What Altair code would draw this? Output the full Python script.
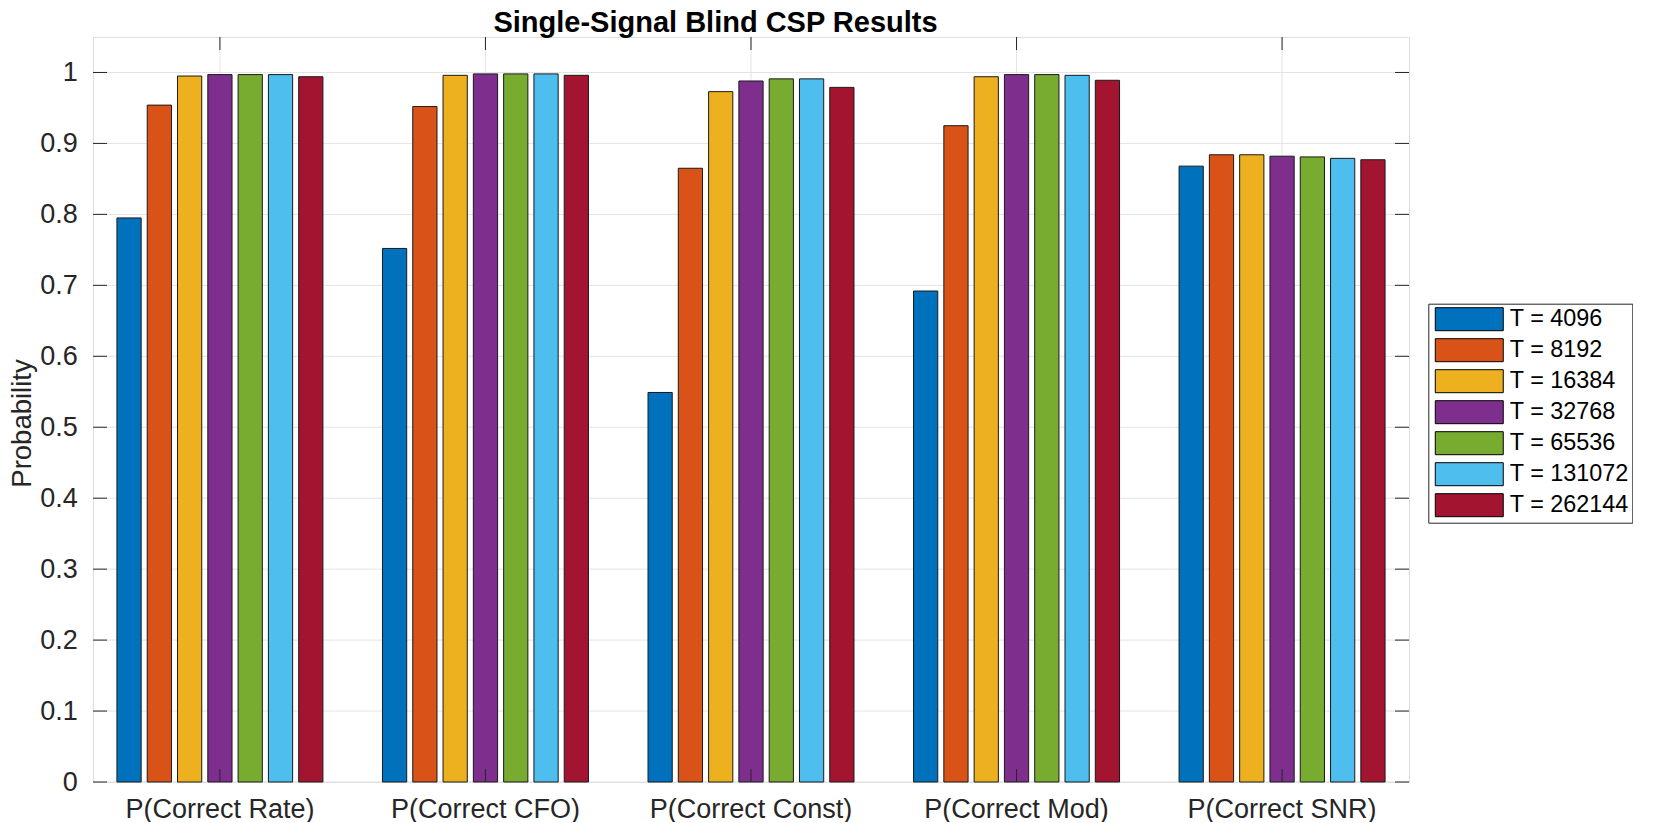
import altair as alt
import pandas as pd

categories = ["P(Correct Rate)", "P(Correct CFO)", "P(Correct Const)", "P(Correct Mod)", "P(Correct SNR)"]
series = ["T = 4096", "T = 8192", "T = 16384", "T = 32768", "T = 65536", "T = 131072", "T = 262144"]
colors = ["#0072BD", "#D95319", "#EDB120", "#7E2F8E", "#77AC30", "#4DBEEE", "#A2142F"]

v4096 = [0.795, 0.752, 0.549, 0.692, 0.868]
v8192 = [0.954, 0.952, 0.865, 0.925, 0.884]
v16384 = [0.995, 0.996, 0.973, 0.994, 0.884]
v32768 = [0.997, 0.998, 0.988, 0.997, 0.882]
v65536 = [0.997, 0.998, 0.991, 0.997, 0.881]
v131072 = [0.997, 0.998, 0.991, 0.996, 0.879]
v262144 = [0.994, 0.996, 0.979, 0.989, 0.877]
all_values = [v4096, v8192, v16384, v32768, v65536, v131072, v262144]

ytick_vals = [0, 0.1, 0.2, 0.3, 0.4, 0.5, 0.6, 0.7, 0.8, 0.9, 1]

rows = []
for s, vals in zip(series, all_values):
    for c, v in zip(categories, vals):
        rows.append({"metric": c, "T": s, "p": v})
df = pd.DataFrame(rows)
ydf = pd.DataFrame({"v": ytick_vals})
xdf = pd.DataFrame({"metric": categories})

W, H = 1316, 745
FONT = "Liberation Sans, Arial, Helvetica, sans-serif"
AX = "#262626"

xscale = alt.Scale(domain=categories, paddingInner=0.2014, paddingOuter=0.0787)
yscale = alt.Scale(domain=[0, 1.05], nice=False, zero=True)

xax = alt.Axis(labelAngle=0, labelFontSize=27, labelFont=FONT, labelColor=AX,
               labelPadding=14, ticks=False, tickSize=0, domain=False, grid=False,
               title=None, labelBaseline="top", labelLimit=600)
yax = alt.Axis(values=ytick_vals, format="~g", labelFontSize=27, labelFont=FONT,
               labelColor=AX, labelPadding=15.7, ticks=False, tickSize=0, domain=False,
               grid=False, title="Probability", titleFontSize=27.5, titleFont=FONT,
               titleFontWeight="normal", titleColor=AX, titleX=-62.7, titleY=386,
               titleBaseline="alphabetic", titleAlign="center", titleAngle=270)

X = alt.X("metric:N", scale=xscale, sort=categories, axis=xax)
Yv = alt.Y("v:Q", scale=yscale, axis=yax)

ygrid = alt.Chart(ydf).mark_rule(color="#E3E3E3", strokeWidth=1).encode(y=Yv)
xgrid = alt.Chart(xdf).mark_rule(color="#E3E3E3", strokeWidth=1).encode(x=X)

legend = alt.Legend(
    title=None, orient="none", legendX=1335.3, legendY=266.7,
    symbolType="M-0.74,-1H5.17V1H-0.74Z", symbolSize=529,
    symbolStrokeColor="black", symbolStrokeWidth=1, symbolOpacity=1,
    labelFontSize=23.4, labelFont=FONT, labelColor="black", labelOffset=54,
    labelExpr="datum.label + '\u00a0\u00a0\u00a0\u00a0'",
    rowPadding=3.0, padding=3.5, strokeColor=AX, fillColor="white", labelLimit=400,
)

bars = alt.Chart(df).mark_bar(stroke="#1a1a1a", strokeWidth=1).encode(
    x=X,
    xOffset=alt.XOffset("T:N", sort=series,
                        scale=alt.Scale(domain=series, paddingInner=0.2, paddingOuter=0.1)),
    y=alt.Y("p:Q", scale=yscale, axis=yax),
    color=alt.Color("T:N", sort=series, scale=alt.Scale(domain=series, range=colors),
                    legend=legend),
)

ytl = alt.Chart(ydf).mark_rule(color=AX, strokeWidth=1).encode(
    y=Yv, x=alt.value(0), x2=alt.value(14))
ytr = alt.Chart(ydf).mark_rule(color=AX, strokeWidth=1).encode(
    y=Yv, x=alt.value(W - 14), x2=alt.value(W))
xtt = alt.Chart(xdf).mark_rule(color=AX, strokeWidth=1).encode(
    x=X, y=alt.value(0), y2=alt.value(13))
xtb = alt.Chart(xdf).mark_rule(color=AX, strokeWidth=1).encode(
    x=X, y=alt.value(H - 13), y2=alt.value(H))

chart = alt.layer(ygrid, xgrid, bars, ytl, ytr, xtt, xtb).properties(
    width=W, height=H,
    title=alt.TitleParams("Single-Signal Blind CSP Results", fontSize=29, fontWeight="bold",
                          font=FONT, color="black", offset=-24.0, baseline="alphabetic",
                          dx=-35.5, anchor="middle", frame="group"),
    autosize=alt.AutoSizeParams(type="pad"),
    padding={"left": 0, "top": 0, "right": 0, "bottom": 0},
).configure_view(stroke=AX, strokeWidth=1).configure(background="white")

chart.save("out.html", embed_options={"renderer": "svg", "actions": False})
